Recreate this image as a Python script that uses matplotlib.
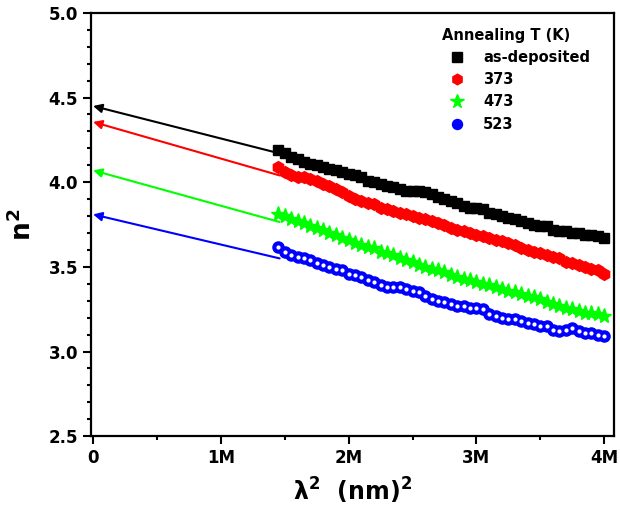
import numpy as np
import matplotlib
matplotlib.use("Agg")
import matplotlib.pyplot as plt
from matplotlib.ticker import MultipleLocator, FuncFormatter

# lambda^2 in units of 1e6 nm^2
lam2 = [1.45, 1.50, 1.55, 1.60, 1.65, 1.70, 1.75, 1.80, 1.85, 1.90, 1.95,
        2.00, 2.05, 2.10, 2.15, 2.20, 2.25, 2.30, 2.35, 2.40, 2.45, 2.50,
        2.55, 2.60, 2.65, 2.70, 2.75, 2.80, 2.85, 2.90, 2.95, 3.00, 3.05,
        3.10, 3.15, 3.20, 3.25, 3.30, 3.35, 3.40, 3.45, 3.50, 3.55, 3.60,
        3.65, 3.70, 3.75, 3.80, 3.85, 3.90, 3.95, 4.00]

n2_asdep = [4.19, 4.17, 4.15, 4.14, 4.12, 4.11, 4.10, 4.09, 4.08, 4.07, 4.06,
            4.05, 4.04, 4.03, 4.01, 4.00, 3.99, 3.98, 3.97, 3.96, 3.95, 3.95,
            3.95, 3.94, 3.93, 3.91, 3.90, 3.89, 3.88, 3.86, 3.85, 3.85, 3.84,
            3.82, 3.81, 3.80, 3.79, 3.78, 3.77, 3.76, 3.75, 3.74, 3.74, 3.72,
            3.71, 3.71, 3.70, 3.70, 3.69, 3.69, 3.68, 3.67]
n2_373 = [4.09, 4.06, 4.04, 4.03, 4.03, 4.02, 4.01, 3.99, 3.98, 3.96, 3.94,
          3.92, 3.90, 3.89, 3.88, 3.87, 3.85, 3.84, 3.83, 3.82, 3.81, 3.80,
          3.79, 3.78, 3.77, 3.76, 3.75, 3.73, 3.72, 3.71, 3.70, 3.69, 3.68,
          3.67, 3.66, 3.65, 3.64, 3.63, 3.61, 3.60, 3.59, 3.58, 3.57, 3.56,
          3.55, 3.53, 3.52, 3.51, 3.50, 3.49, 3.48, 3.46]
n2_473 = [3.81, 3.80, 3.78, 3.77, 3.76, 3.74, 3.73, 3.72, 3.70, 3.69, 3.67,
          3.66, 3.64, 3.63, 3.62, 3.61, 3.59, 3.58, 3.57, 3.55, 3.54, 3.53,
          3.51, 3.50, 3.49, 3.48, 3.47, 3.45, 3.44, 3.43, 3.42, 3.41, 3.40,
          3.39, 3.38, 3.37, 3.36, 3.35, 3.34, 3.33, 3.32, 3.31, 3.29, 3.28,
          3.27, 3.26, 3.25, 3.24, 3.23, 3.23, 3.22, 3.21]
n2_523 = [3.62, 3.59, 3.57, 3.56, 3.55, 3.54, 3.52, 3.51, 3.50, 3.49, 3.48,
          3.46, 3.45, 3.44, 3.42, 3.41, 3.39, 3.38, 3.38, 3.38, 3.37, 3.36,
          3.35, 3.33, 3.31, 3.30, 3.29, 3.28, 3.27, 3.27, 3.26, 3.26, 3.25,
          3.22, 3.21, 3.20, 3.19, 3.19, 3.18, 3.17, 3.16, 3.15, 3.15, 3.13,
          3.12, 3.13, 3.14, 3.12, 3.11, 3.11, 3.10, 3.09]

# linear extrapolation lines: value at lambda^2 = 0 and at the start of the data
fit_x_end = 1.46
fit_y0 = [4.45, 4.356, 4.07, 3.81]
fit_y_end = [4.17, 4.04, 3.765, 3.55]

labels = ["as-deposited", "373", "473", "523"]
colors = ["black", "red", "#00ff00", "blue"]
markers = ["s", "h", "*", "o"]
msizes = [7.5, 8.5, 11, 8]
series = [n2_asdep, n2_373, n2_473, n2_523]

plt.rcParams['font.family'] = 'DejaVu Sans'
plt.rcParams['font.weight'] = 'bold'

fig = plt.figure(figsize=(6.2, 5.15), dpi=100)
ax = fig.add_axes([0.147, 0.153, 0.843, 0.822])

handles = []
for i in range(4):
    h, = ax.plot(lam2, series[i], linestyle='none', marker=markers[i], ms=msizes[i],
                 color=colors[i], mec=colors[i], label=labels[i])
    handles.append(h)
    ax.annotate('', xy=(0, fit_y0[i]), xytext=(fit_x_end, fit_y_end[i]),
                arrowprops=dict(arrowstyle='-|>', color=colors[i], lw=1.5,
                                mutation_scale=13, shrinkA=0, shrinkB=0))

# white highlights on the blue spheres
ax.plot(lam2, n2_523, linestyle='none', marker='o', ms=2.0, color='white')

ax.set_xlim(-0.015, 4.075)
ax.set_ylim(2.5, 5.0)
ax.xaxis.set_major_locator(MultipleLocator(1))
ax.xaxis.set_minor_locator(MultipleLocator(0.5))
ax.yaxis.set_major_locator(MultipleLocator(0.5))
ax.yaxis.set_minor_locator(MultipleLocator(0.1))
ax.xaxis.set_major_formatter(FuncFormatter(lambda v, p: '0' if v == 0 else '%dM' % v))
ax.yaxis.set_major_formatter(FuncFormatter(lambda v, p: '%.1f' % v))
ax.tick_params(which='both', direction='out', width=1.5, labelsize=12,
               top=False, right=False)
ax.tick_params(which='major', length=6)
ax.tick_params(which='minor', length=3)
for s in ax.spines.values():
    s.set_linewidth(1.6)

ax.set_xlabel('λ$^\\mathbf{2}$  (nm)$^\\mathbf{2}$', fontsize=17, fontweight='bold', labelpad=6)
ax.set_ylabel('n$^\\mathbf{2}$', fontsize=19, fontweight='bold', labelpad=8)

leg = ax.legend(handles=handles, title='Annealing T (K)', loc='upper right',
                bbox_to_anchor=(0.966, 0.979), frameon=False, alignment='left',
                prop={'weight': 'bold', 'size': 10.5},
                title_fontproperties={'weight': 'bold', 'size': 10.5},
                borderaxespad=0, handletextpad=0.8, labelspacing=0.5,
                markerscale=0.9)

plt.savefig('out.png', dpi=100)
